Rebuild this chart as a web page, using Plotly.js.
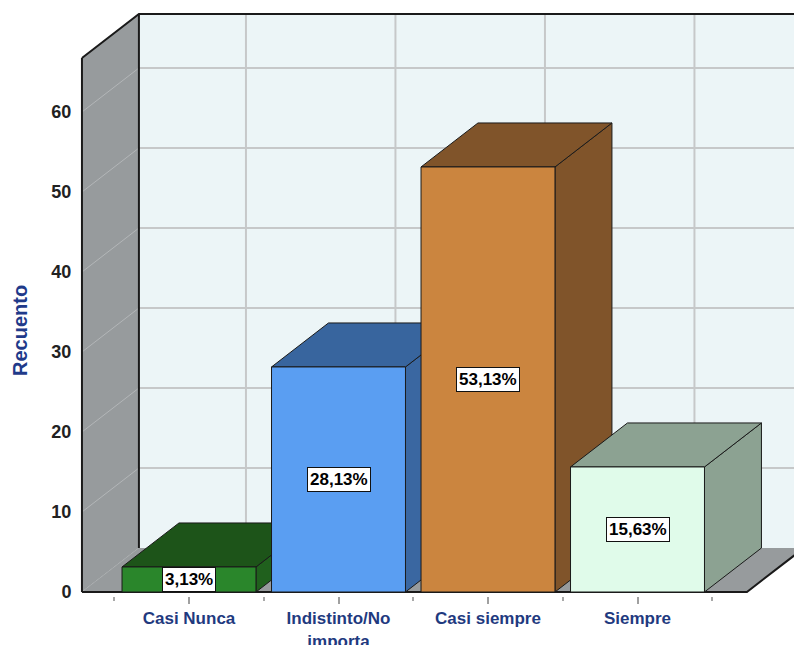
<!DOCTYPE html>
<html>
<head>
<meta charset="utf-8">
<script src="https://cdn.plot.ly/plotly-3.0.1.min.js"></script>
<style>html,body{margin:0;padding:0;background:#fff;}#chart{width:794px;height:645px;}</style>
</head>
<body>
<div id="chart"></div>
<script>
// ---- data ----
const categories = ['Casi Nunca', 'Indistinto/No<br>importa', 'Casi siempre', 'Siempre'];
const values = [3.13, 28.13, 53.13, 15.63];
const yTickVals = [0, 10, 20, 30, 40, 50, 60];
const yTickText = ['0', '10', '20', '30', '40', '50', '60'];
const yTitle = 'Recuento';
const frontColors = ['#2a862b', '#5a9ef2', '#cb853f', '#e0fbea'];
const topColors = ['#1d5419', '#38659e', '#80542a', '#8ca292'];
const sideColors = ['#20601d', '#3a67a1', '#80542a', '#8ca292'];

// ---- pseudo-3D geometry (in axis units) ----
const DX = 0.381, DY = 5.5;      // depth offset
const W = 0.448;                 // bar half width
const XL = -0.716;               // left wall front x
const XF = 3.732;                // floor front right end
const XR = 4.3;                  // beyond right edge
const YMAX = 66.75;              // wall height (front)
const edge = '#1a1a1a';

const traces = [];
function poly(xs, ys, fill, lineColor, lw) {
  traces.push({type: 'scatter', mode: 'lines', x: xs.concat([xs[0]]), y: ys.concat([ys[0]]),
    fill: 'toself', fillcolor: fill, line: {color: lineColor || fill, width: lw === undefined ? 1 : lw},
    hoverinfo: 'skip', showlegend: false});
}
function lines(xs, ys, color, width, dash) {
  traces.push({type: 'scatter', mode: 'lines', x: xs, y: ys, line: {color: color, width: width, dash: dash || 'solid'},
    hoverinfo: 'skip', showlegend: false, connectgaps: false});
}

// back wall
poly([XL + DX, XR, XR, XL + DX], [DY, DY, YMAX + DY, YMAX + DY], '#ecf5f7', '#ecf5f7', 0);
// back wall grid
{
  const gx = [], gy = [];
  yTickVals.forEach(v => { if (v > 0) { gx.push(XL + DX, XR, null); gy.push(v + DY, v + DY, null); } });
  categories.forEach((c, i) => { gx.push(i + DX, i + DX, null); gy.push(DY, YMAX + DY, null); });
  lines(gx, gy, '#c6c8c9', 2);
}
// left wall
poly([XL, XL, XL + DX, XL + DX], [0, YMAX, YMAX + DY, DY], '#979b9d', '#979b9d', 0);
{
  const gx = [], gy = [];
  yTickVals.forEach(v => { gx.push(XL, XL + DX, null); gy.push(v, v + DY, null); });
  lines(gx, gy, '#b3b6b8', 1);
}
// floor
poly([XL, XF, XF + DX, XL + DX], [0, 0, DY, DY], '#979b9d', '#979b9d', 0);
// wall/floor edges
lines([XL, XL, null, XL, XL + DX, XR, null, XL + DX, XL + DX, null, XL, XF, XF + DX + 0.2],
      [0, YMAX, null, YMAX, YMAX + DY, YMAX + DY, null, DY, YMAX + DY, null, 0, 0, DY + 0.2 * DY / DX], edge, 2);

// bars
values.forEach((v, i) => {
  poly([i + W, i + W + DX, i + W + DX, i + W], [0, DY, v + DY, v], sideColors[i], edge, 1);
  poly([i - W, i - W + DX, i + W + DX, i + W], [v, v + DY, v + DY, v], topColors[i], edge, 1);
  poly([i - W, i + W, i + W, i - W], [0, 0, v, v], frontColors[i], edge, 1);
});

const annotations = values.map((v, i) => ({
  x: i, y: v / 2, xref: 'x', yref: 'y', showarrow: false,
  text: v.toFixed(2).replace('.', ',') + '%',
  font: {family: 'Liberation Sans, Arial, sans-serif', size: 17, color: '#000', weight: 'bold'},
  bgcolor: '#ffffff', bordercolor: '#111', borderwidth: 1, borderpad: 2
}));
annotations.push({
  xref: 'paper', yref: 'paper', x: (20 - 80) / 714, y: (596 - 330) / 584,
  xanchor: 'center', yanchor: 'middle', textangle: -90, showarrow: false,
  text: yTitle,
  font: {family: 'Liberation Sans, Arial, sans-serif', size: 20, color: '#1f3a8a', weight: 'bold'}
});

const layout = {
  width: 794, height: 645,
  margin: {l: 80, r: 0, t: 12, b: 49, pad: 0},
  paper_bgcolor: '#ffffff', plot_bgcolor: '#ffffff',
  showlegend: false,
  xaxis: {
    range: [(80 - 189) / 149.5, (794 - 189) / 149.5],
    tickmode: 'array', tickvals: categories.map((c, i) => i), ticktext: categories,
    showgrid: false, zeroline: false, showline: false,
    ticks: 'outside', ticklen: 7, tickwidth: 2, tickcolor: '#a0a0a0',
    minor: {tickmode: 'array', tickvals: [-0.5, 0.5, 1.5, 2.5, 3.5], ticks: 'outside', ticklen: 4, tickwidth: 2, tickcolor: '#a8a8a8', showgrid: false},
    tickfont: {family: 'Liberation Sans, Arial, sans-serif', size: 17, color: '#1f3a7f', weight: 'bold'},
    fixedrange: true
  },
  yaxis: {
    range: [-0.5, 72.5],
    tickmode: 'array', tickvals: yTickVals, ticktext: yTickText,
    showgrid: false, zeroline: false, showline: false,
    ticks: 'outside', ticklen: 4, tickcolor: 'rgba(0,0,0,0)',
    tickfont: {family: 'Liberation Sans, Arial, sans-serif', size: 18, color: '#222', weight: 'bold'},
    automargin: false,
    fixedrange: true
  },
  annotations: annotations
};

Plotly.newPlot('chart', traces, layout, {displayModeBar: false, staticPlot: true});
</script>
</body>
</html>
